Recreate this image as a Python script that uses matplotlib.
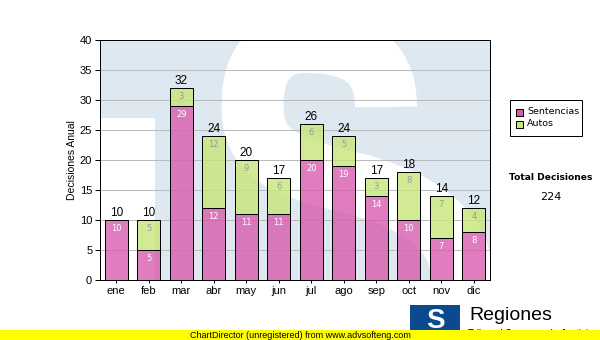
import numpy as np
import matplotlib
matplotlib.use("Agg")
from matplotlib import pyplot as plt
from matplotlib.path import Path
from matplotlib.patches import PathPatch, Rectangle

# monthly decisions
meses = ["ene", "feb", "mar", "abr", "may", "jun", "jul", "ago", "sep", "oct", "nov", "dic"]
sentencias = [10, 5, 29, 12, 11, 11, 20, 19, 14, 10, 7, 8]
autos = [0, 5, 3, 12, 9, 6, 6, 5, 3, 8, 7, 4]
series_names = ["Sentencias", "Autos"]
y_ticks = [0, 5, 10, 15, 20, 25, 30, 35, 40]

total = sum(sentencias) + sum(autos)

W, H = 600, 340
PX = 72.0 / 100  # points per pixel
pink = "#d75cae"
green = "#c7e579"
wm_blue = "#dee8f1"
axis_font = "Liberation Sans"
label_font = "DejaVu Sans"

fig = plt.figure(figsize=(W / 100, H / 100), dpi=100)
fig.patch.set_facecolor("white")

# plot area in pixels: x 100..490, y 40..280
l, r, t, b = 100, 490, 40, 280
rect = [l / W, 1 - b / H, (r - l) / W, (b - t) / H]

# watermark logo behind the plot
bg = fig.add_axes(rect, zorder=0)
bg.set_xlim(l, r)
bg.set_ylim(b, t)
bg.axis("off")
bg.add_patch(Rectangle((l, t), r - l, b - t, color=wm_blue, lw=0))
bg.add_patch(Rectangle((l, 118), 55, b - 118, color="white", lw=0))
verts = [(386, 107),
         (386, 55), (350, 42), (305, 42),
         (262, 42), (250, 78), (253, 115),
         (256, 160), (300, 170), (360, 185),
         (430, 205), (470, 240), (460, 290),
         (450, 330), (380, 340), (330, 330)]
codes = [Path.MOVETO] + [Path.CURVE4] * 15
s_path = PathPatch(Path(verts, codes), fill=False, edgecolor="white",
                   lw=62 * PX, capstyle="butt")
bg.add_patch(s_path)

ax = fig.add_axes(rect, zorder=1)
ax.patch.set_alpha(0)
x = np.arange(len(meses))
ax.set_xlim(-0.5, len(meses) - 0.5)
ax.set_ylim(0, 40)

for yy in y_ticks[1:-1]:
    ax.axhline(yy, color="#bbbbbb", lw=1 * PX, zorder=1)

ax.bar(x, sentencias, 0.7, color=pink, alpha=0.8, lw=0, zorder=2, label=series_names[0])
ax.bar(x, autos, 0.7, bottom=sentencias, color=green, alpha=0.8, lw=0, zorder=2,
       label=series_names[1])
# opaque outlines on top
ax.bar(x, sentencias, 0.7, fill=False, edgecolor="black", lw=1 * PX, zorder=3)
ax.bar(x, autos, 0.7, bottom=sentencias, fill=False, edgecolor="black",
       lw=1 * PX, zorder=3)

for i in range(len(meses)):
    s, a = sentencias[i], autos[i]
    ax.annotate(str(s), (x[i], s), xytext=(0, -3), textcoords="offset points",
                ha="center", va="top", fontsize=6, color="white",
                family=label_font, zorder=4)
    if a > 0:
        ax.annotate(str(a), (x[i], s + a), xytext=(0, -3), textcoords="offset points",
                    ha="center", va="top", fontsize=6, color="#9a9a9a",
                    family=label_font, zorder=4)
    ax.annotate(str(s + a), (x[i], s + a), xytext=(0, 0.5), textcoords="offset points",
                ha="center", va="bottom", fontsize=8.5, color="black",
                family=axis_font, zorder=4)

ax.set_yticks(y_ticks)
ax.set_xticks(x)
ax.set_xticklabels(meses)
ax.tick_params(axis="y", length=5 * PX, width=1 * PX, pad=2, labelsize=8)
ax.tick_params(axis="x", length=3 * PX, width=1 * PX, pad=2, labelsize=8)
for lab in ax.get_xticklabels() + ax.get_yticklabels():
    lab.set_family(axis_font)
for sp in ax.spines.values():
    sp.set_linewidth(1 * PX)
ax.set_ylabel("Decisiones Anual", fontsize=7.5, family=axis_font, labelpad=2)

# overlay in figure pixels for legend, totals and footer
ov = fig.add_axes([0, 0, 1, 1], zorder=5)
ov.set_xlim(0, W)
ov.set_ylim(H, 0)
ov.axis("off")

ov.add_patch(Rectangle((510, 100), 72, 36, facecolor="white", edgecolor="black", lw=1 * PX))
for k, (name, c) in enumerate(zip(series_names, [pink, green])):
    yy = 112 + k * 12
    ov.add_patch(Rectangle((516, yy - 3.5), 7, 7, facecolor=c, edgecolor="black", lw=1 * PX))
    ov.text(527, yy, name, fontsize=6.8, family=label_font, va="center", ha="left")

ov.text(551, 178, "Total Decisiones", fontsize=6.6, weight="bold",
        family=label_font, ha="center", va="center")
ov.text(551, 197, str(total), fontsize=8, family=label_font, ha="center", va="center")

# logo
ov.add_patch(Rectangle((410, 305), 50, 30, facecolor="#0b4a8f", lw=0))
ov.text(435, 321, "S", fontsize=20, weight="bold", color="white",
        family=axis_font, ha="center", va="center")
ov.text(469, 316, "Regiones", fontsize=14, family=axis_font, ha="left", va="center")
ov.text(468, 334, "Tribunal Supremo de Justicia", fontsize=7, family=axis_font,
        ha="left", va="center")

# footer band
ov.add_patch(Rectangle((0, 330), W, 10, facecolor="#ffff00", lw=0, zorder=6))
ov.text(190, 335, "ChartDirector (unregistered) from www.advsofteng.com", fontsize=6.5,
        family=axis_font, ha="left", va="center", zorder=7)

fig.savefig("out.png", dpi=100, facecolor="white")
